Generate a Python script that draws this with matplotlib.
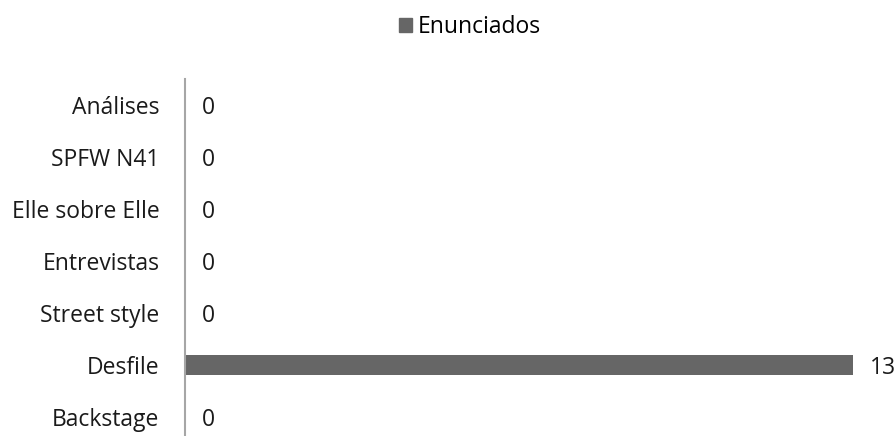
import matplotlib
matplotlib.use("Agg")
import matplotlib.pyplot as plt
from matplotlib.patches import Patch

categories = ["Análises", "SPFW N41", "Elle sobre Elle", "Entrevistas", "Street style", "Desfile", "Backstage"]
values = [0, 0, 0, 0, 0, 13, 0]
series_name = "Enunciados"

plt.rcParams['font.family'] = ['Open Sans', 'DejaVu Sans']
fs = 16.5

W, H = 896, 436
fig = plt.figure(figsize=(W/100, H/100), dpi=100)
left, right = 185, 853
top, bottom = 79, 443
ax = fig.add_axes([left/W, (H-bottom)/H, (right-left)/W, (bottom-top)/H])

ypos = list(range(len(categories)))
ax.barh(ypos, values, height=0.4, color="#666666")
ax.set_ylim(len(categories)-0.5, -0.5)
ax.set_xlim(0, 13)
ax.set_yticks(ypos)
ax.set_yticklabels(categories, fontsize=fs, color="#1a1a1a")
ax.tick_params(axis='y', length=0, pad=18.5)
ax.set_xticks([])
for s in ["top", "right", "bottom"]:
    ax.spines[s].set_visible(False)
ax.spines["left"].set_color("#a6a6a6")
ax.spines["left"].set_linewidth(1.5)

for y, v in zip(ypos, values):
    ax.annotate(str(v), xy=(v, y), xytext=(12, 0), textcoords="offset points",
                ha="left", va="center_baseline", fontsize=fs, color="#1a1a1a",
                annotation_clip=False)

fig.legend(handles=[Patch(color="#666666", label=series_name)], loc="center",
           bbox_to_anchor=(0.5245, 1-27/H), frameon=False, fontsize=fs,
           handlelength=0.6, handleheight=0.6, handletextpad=0.25)

fig.savefig("out.png", dpi=100)
